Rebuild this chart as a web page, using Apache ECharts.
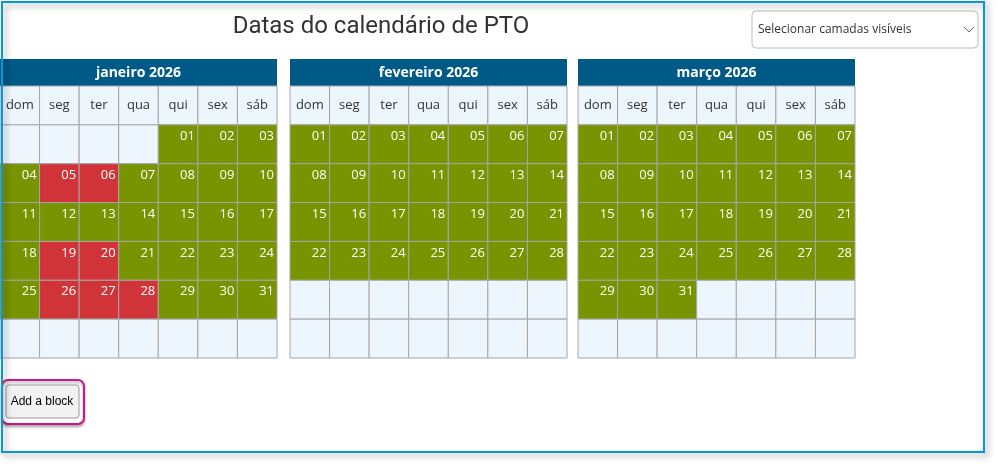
<!DOCTYPE html>
<html><head><meta charset="utf-8">
<script src="https://cdn.jsdelivr.net/npm/echarts@6/dist/echarts.min.js"></script>
<style>body{margin:0;background:#fff;font-family:Roboto,sans-serif}#c{width:999px;height:467px}</style>
</head><body><div id="c"></div>
<script>
const months = ['janeiro 2026','fevereiro 2026','março 2026'];
const firstWeekday = [4, 0, 0];
const monthDays = [31, 28, 31];
const dayNames = ['dom','seg','ter','qua','qui','sex','sáb'];
const ptoDays = [[5,6,19,20,26,27,28],[],[]];
const lefts = [0, 290, 578];
const W = 277, TOP = 86, H = 272;

const chart = echarts.init(document.getElementById('c'));
const grids = [], xAxes = [], yAxes = [], series = [], graphics = [];
months.forEach((m, i) => {
  grids.push({left: lefts[i], top: TOP, width: W, height: H});
  xAxes.push({gridIndex: i, type: 'value', min: -0.5, max: 6.5, show: false});
  yAxes.push({gridIndex: i, type: 'value', min: -0.5, max: 6.5, inverse: true, show: false});
  const data = [];
  dayNames.forEach((d, c) => data.push([c, 0, d, 'h']));
  for (let r = 0; r < 6; r++) for (let c = 0; c < 7; c++) {
    const day = r * 7 + c - firstWeekday[i] + 1;
    if (day >= 1 && day <= monthDays[i]) {
      data.push([c, r + 1, String(day).padStart(2, '0'), ptoDays[i].includes(day) ? 'p' : 'd']);
    } else data.push([c, r + 1, '', 'e']);
  }
  series.push({
    type: 'custom', xAxisIndex: i, yAxisIndex: i, data,
    renderItem(params, api) {
      const p = api.coord([api.value(0), api.value(1)]);
      const s = api.size([1, 1]);
      const t = data[params.dataIndex][3];
      const fill = t === 'p' ? '#d13438' : t === 'd' ? '#789400' : '#eef6fd';
      const x = p[0] - s[0] / 2, y = p[1] - s[1] / 2;
      const label = data[params.dataIndex][2];
      return {type: 'group', children: [
        {type: 'rect', shape: {x, y, width: s[0], height: s[1]}, style: {fill, stroke: '#a6a6a6', lineWidth: 1}},
        {type: 'text', style: t === 'h' ?
          {text: label, x: p[0], y: p[1], align: 'center', verticalAlign: 'middle', fill: '#333', font: '13px "Open Sans", sans-serif'} :
          {text: label, x: x + s[0] - 3, y: y + 5, align: 'right', verticalAlign: 'top', fill: '#fff', font: '13px "Open Sans", sans-serif'}}
      ]};
    }
  });
  graphics.push({type: 'rect', shape: {x: lefts[i], y: 59, width: W, height: 27}, style: {fill: '#005a87'}});
  graphics.push({type: 'text', x: lefts[i] + W / 2, y: 73, style: {text: m, align: 'center', verticalAlign: 'middle', fill: '#fff', font: 'bold 14px "Open Sans", sans-serif'}});
});
graphics.push({type: 'rect', shape: {x: 2, y: 2, width: 982, height: 450}, style: {fill: 'none', stroke: '#0a96d6', lineWidth: 2, shadowBlur: 6, shadowColor: 'rgba(0,0,0,0.4)', shadowOffsetX: 3, shadowOffsetY: 3}, z: 10});
graphics.push({type: 'rect', shape: {x: 752, y: 11, width: 226, height: 37, r: 4}, style: {fill: '#fff', stroke: '#bbb', lineWidth: 1}});
graphics.push({type: 'text', x: 758, y: 30, style: {text: 'Selecionar camadas visíveis', verticalAlign: 'middle', fill: '#333', font: '12px "Open Sans", sans-serif'}});
graphics.push({type: 'polyline', shape: {points: [[964, 27], [969, 32], [974, 27]]}, style: {stroke: '#666', lineWidth: 1, fill: 'none'}});
graphics.push({type: 'rect', shape: {x: 2, y: 380, width: 82, height: 44, r: 6}, style: {fill: '#fff', stroke: '#c8168c', lineWidth: 2, shadowBlur: 3, shadowColor: 'rgba(0,0,0,0.3)', shadowOffsetY: 2}});
graphics.push({type: 'rect', shape: {x: 6, y: 385, width: 73, height: 33, r: 3}, style: {fill: '#f2f2f2', stroke: '#999', lineWidth: 1}});
graphics.push({type: 'text', x: 42, y: 402, style: {text: 'Add a block', align: 'center', verticalAlign: 'middle', fill: '#000', font: '12px Arial, sans-serif'}});
chart.setOption({
  animation: false,
  title: {text: 'Datas do calendário de PTO', left: 376, top: 10, textAlign: 'center', textStyle: {fontFamily: 'Roboto', fontWeight: 'normal', fontSize: 24, color: '#333'}},
  grid: grids, xAxis: xAxes, yAxis: yAxes, series, graphic: graphics
});
</script></body></html>
